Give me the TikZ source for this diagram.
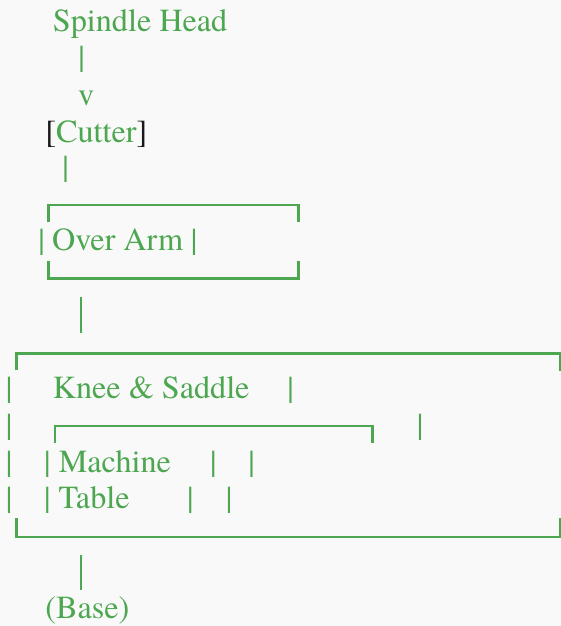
\documentclass[tikz,border=0pt]{standalone}
\usepackage{fontspec}
\setmainfont{texgyretermes-regular.otf}
\usepackage{tikz}

\definecolor{mgreen}{RGB}{77,166,80}
\definecolor{ink}{RGB}{25,25,25}
\definecolor{paper}{RGB}{249,249,249}

\begin{document}
\begin{tikzpicture}[
    x=1pt, y=-1pt,
    txt/.style={
        anchor=base west,
        inner sep=0pt,
        text=mgreen,
        font=\rmfamily\fontsize{32.2}{37}\selectfont
    },
    bar/.style={txt, anchor=base},
    frame/.style={draw=mgreen, line width=2.6pt},
    stem/.style={draw=mgreen, line width=2.8pt}
]
\fill[paper] (0,0) rectangle (561,626);
\useasboundingbox (0,0) rectangle (561,626);

% text lines, top to bottom
\node[txt] (spindle) at (52.7,32) {Spindle Head};
\node[txt] (tip) at (78,105) {v};
\node[txt] (cutter) at (45.2,142) {\textcolor{ink}{[}Cutter\textcolor{ink}{]}};
\node[txt] (arm) at (52,250.5) {Over Arm};
\node[txt] (knee) at (52.6,398) {Knee \& Saddle};
\node[txt] (machine) at (58.6,472.5) {Machine};
\node[txt] (table) at (58.5,508.5) {Table};
\node[txt] (base) at (45.2,618) {(Base)};

% loose pipe characters
\foreach \x/\y [count=\i] in {81.7/67, 65.7/177, 41.7/250.5, 194/250.5,
        9/398, 290.7/398, 9/435, 420/435,
        9/472.5, 47.3/472.5, 213.3/472.5, 251.7/472.5,
        9/508.5, 47.3/508.5, 190.3/508.5, 229/508.5}
    \node[bar] (pipe\i) at (\x,\y) {|};

% over arm frame
\draw[frame] (48.7,222.3) -- (48.7,205) -- (298.7,205) -- (298.7,222.3);
\draw[frame] (48.7,260.7) -- (48.7,278.3) -- (298.7,278.3) -- (298.7,260.7);

% knee frame and the table inside it
\draw[frame] (16.7,370) -- (16.7,353.3) -- (560,353.3) -- (560,371);
\draw[frame] (16.7,518) -- (16.7,537) -- (560,537) -- (560,518);
\draw[frame] (55,443) -- (55,426) -- (372.7,426) -- (372.7,443);

% heavy stems between the blocks
\coordinate (armfoot) at (81,297);
\coordinate (kneehead) at (81,333);
\coordinate (kneefoot) at (81,555);
\coordinate (basehead) at (81,590);
\draw[stem] (armfoot) -- (kneehead);
\draw[stem] (kneefoot) -- (basehead);
\end{tikzpicture}
\end{document}
